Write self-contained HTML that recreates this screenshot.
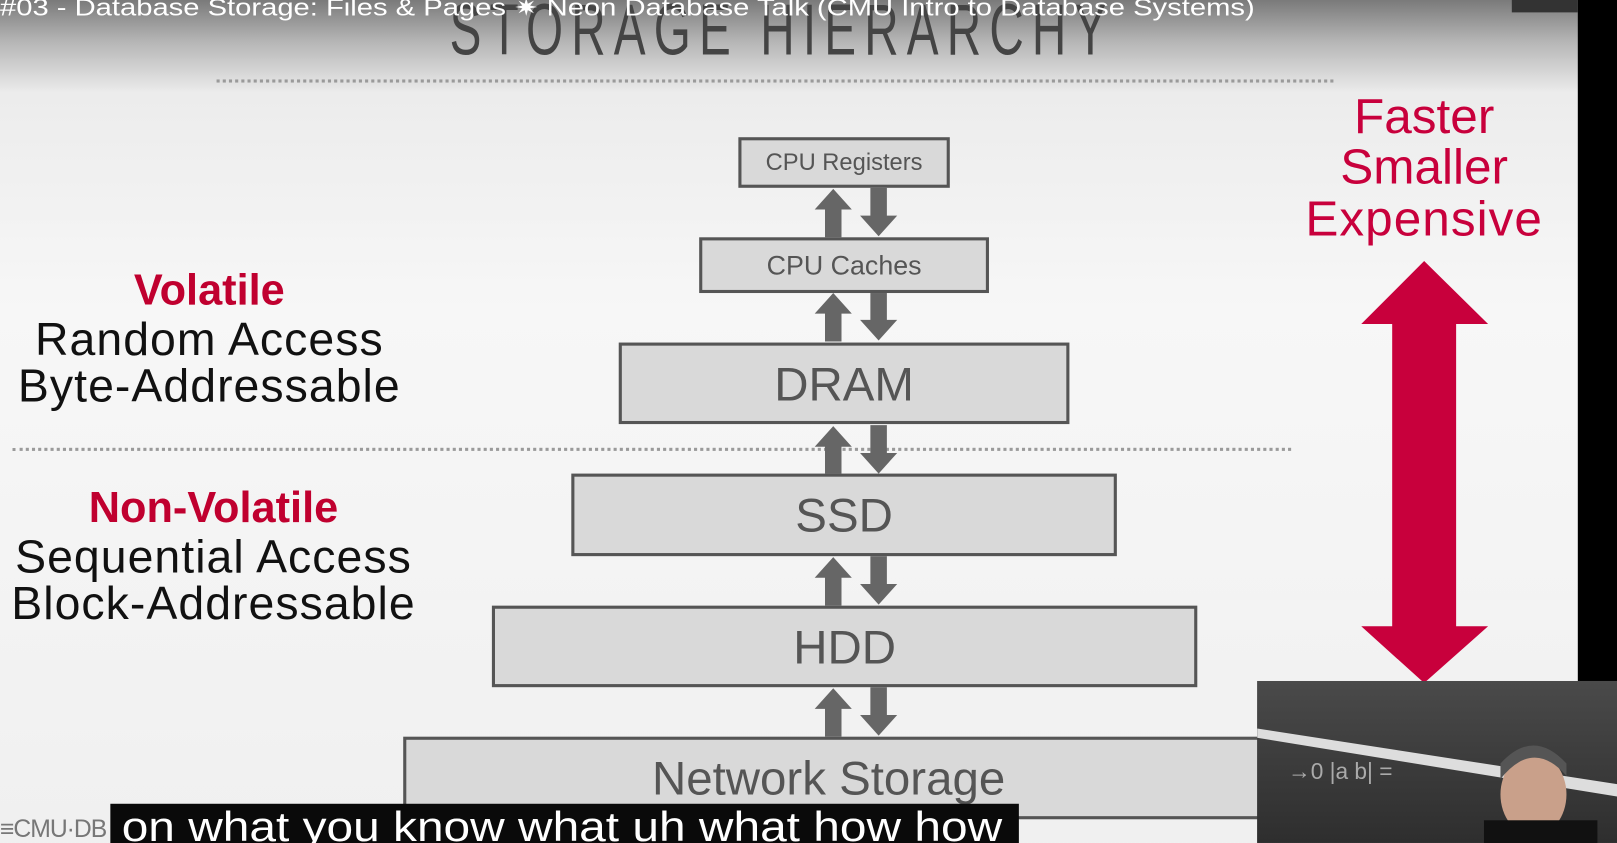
<!DOCTYPE html>
<html><head><meta charset="utf-8"><style>
html,body{margin:0;padding:0;width:1617px;height:843px;overflow:hidden;background:#f2f2f2}
#w{position:absolute;left:0;top:0;width:1568px;height:817px;transform:scale(1.03125,1.0318);transform-origin:0 0;overflow:hidden;
background:linear-gradient(#7a7a7a 0px,#b5b5b5 40px,#ececec 90px,#f7f7f7 300px,#f0f0f0 817px);font-family:"Liberation Sans",sans-serif}
.a{position:absolute}
.box{position:absolute;background:#d9d9d9;border:3px solid #555;box-sizing:border-box;display:flex;align-items:center;justify-content:center;color:#555}
.l{position:absolute;text-align:center;white-space:nowrap;line-height:1}
.dot{position:absolute;height:0;border-top:3px dotted #9a9a9a}
</style></head><body><div id="w">
<div class="a" style="left:1530px;top:0;width:38px;height:660px;background:#000"></div>
<div class="a" style="left:1466px;top:0;width:64px;height:12px;background:#333"></div>
<div class="l" style="left:436px;top:-6px;font-size:70px;color:#444;letter-spacing:12px;transform:scaleX(0.66);transform-origin:0 0">STORAGE HIERARCHY</div>
<div class="l" style="left:0;top:-4px;font-size:23px;color:#fff;transform:scaleX(1.23);transform-origin:0 0">#03 - Database Storage: Files &amp; Pages ✷ Neon Database Talk (CMU Intro to Database Systems)</div>
<div class="dot" style="left:210px;top:77px;width:1083px"></div>
<div class="dot" style="left:12px;top:434px;width:1240px"></div>

<svg class="a" style="left:0;top:0" width="1568" height="817">
<g fill="#666">
<g id="ar"><polygon points="808,183 790,203 800,203 800,230 816,230 816,203 826,203"/><polygon points="852,229 834,209 844,209 844,182 860,182 860,209 870,209"/></g>
<use href="#ar" y="101"/><use href="#ar" y="230"/><use href="#ar" y="357"/><use href="#ar" y="484"/>
</g>
<polygon fill="#c8003c" points="1381,253 1443,314 1412,314 1412,607 1443,607 1381,662 1320,607 1350,607 1350,314 1320,314"/>
</svg>

<div class="box" style="left:716px;top:133px;width:205px;height:49px;font-size:23px">CPU Registers</div>
<div class="box" style="left:678px;top:230px;width:281px;height:54px;font-size:26px">CPU Caches</div>
<div class="box" style="left:600px;top:332px;width:437px;height:79px;font-size:46px">DRAM</div>
<div class="box" style="left:554px;top:459px;width:529px;height:80px;font-size:46px">SSD</div>
<div class="box" style="left:477px;top:587px;width:684px;height:79px;font-size:46px">HDD</div>
<div class="box" style="left:391px;top:714px;width:855px;height:80px;font-size:46px;padding-right:30px">Network Storage</div>

<div class="l" style="left:3px;width:400px;top:260px;font-size:42px;color:#c0002f;font-weight:bold">Volatile</div>
<div class="l" style="left:3px;width:400px;top:306px;font-size:45px;color:#111;letter-spacing:1px">Random Access</div>
<div class="l" style="left:3px;width:400px;top:351px;font-size:45px;color:#111;letter-spacing:1px">Byte-Addressable</div>
<div class="l" style="left:7px;width:400px;top:471px;font-size:42px;color:#c0002f;font-weight:bold">Non-Volatile</div>
<div class="l" style="left:7px;width:400px;top:517px;font-size:45px;color:#111;letter-spacing:1px">Sequential Access</div>
<div class="l" style="left:7px;width:400px;top:562px;font-size:45px;color:#111;letter-spacing:1px">Block-Addressable</div>

<div class="l" style="left:1231px;width:300px;top:90px;font-size:48px;color:#c8003c">Faster</div>
<div class="l" style="left:1231px;width:300px;top:139px;font-size:48px;color:#c8003c">Smaller</div>
<div class="l" style="left:1231px;width:300px;top:189px;font-size:48px;color:#c8003c;letter-spacing:1px">Expensive</div>

<div class="a" style="left:1219px;top:660px;width:349px;height:157px;background:linear-gradient(#4a4a4a,#2e2e2e);overflow:hidden">
<svg width="349" height="157"><polygon points="0,46 349,100 349,112 0,55" fill="#ddd"/>
<text x="30" y="95" fill="#aaa" font-size="22" font-family="Liberation Sans">→0 |a b| =</text>
<ellipse cx="268" cy="110" rx="32" ry="40" fill="#c9a08a"/><path d="M236,95 Q268,55 300,92 L300,80 Q268,45 236,80Z" fill="#555"/>
<rect x="220" y="135" width="110" height="30" fill="#111"/></svg></div>

<div class="l" style="left:0;top:792px;font-size:24px;color:#777;letter-spacing:-1px">≡CMU·DB</div>
<div class="a" style="left:107px;top:779px;width:881px;height:40px;background:#0a0a0a"></div>
<div class="l" style="left:118px;top:782px;font-size:40px;color:#fff;transform:scaleX(1.16);transform-origin:0 0">on what you know what uh what how how</div>
</div></body></html>
